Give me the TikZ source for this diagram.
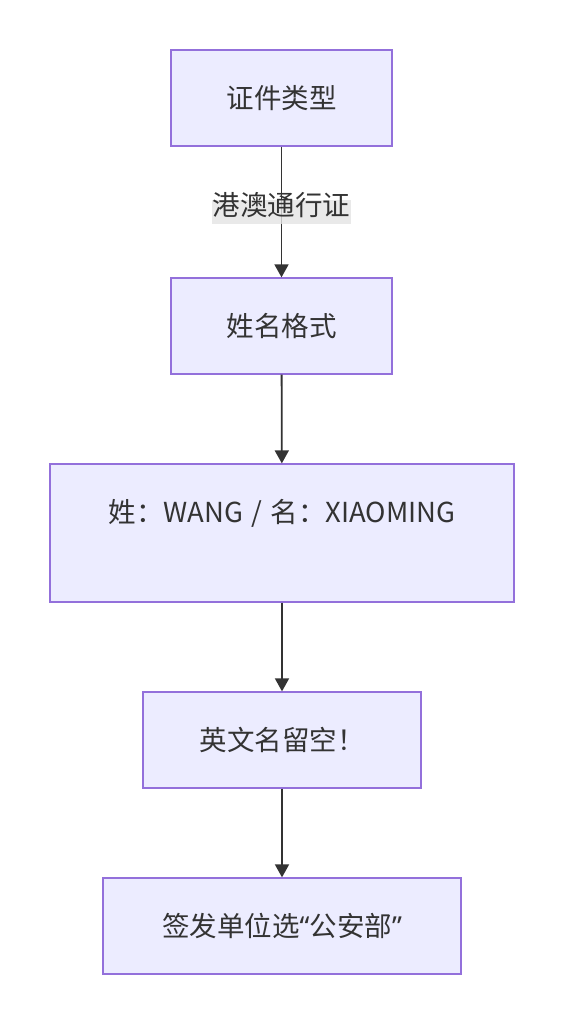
\documentclass[tikz,border=0pt]{standalone}
\usepackage{fontspec}
\setmainfont{Noto Sans CJK SC}
\newfontfamily\quotefont{Noto Sans}
\usetikzlibrary{arrows.meta}
\definecolor{boxfill}{HTML}{ECECFF}
\definecolor{boxline}{HTML}{9370DB}
\definecolor{edgeline}{HTML}{333333}
\definecolor{labelbg}{HTML}{E3E3E3}
\tikzset{
  flowbox/.style={draw=boxline, fill=boxfill, line width=1.3pt, inner sep=0pt,
    text=edgeline, font=\fontsize{27.5}{44}\selectfont, align=center},
  flowedge/.style={draw=edgeline, line width=1.8pt, -{Triangle[width=14pt,length=13pt]}},
  edgelabel/.style={fill=labelbg, fill opacity=0.8, text opacity=1, text=edgeline,
    inner xsep=1pt, inner ysep=6pt,
    text height=0.9em, text depth=0.22em, font=\fontsize{27.5}{30}\selectfont}
}
\begin{document}
\begin{tikzpicture}[x=1pt,y=-1pt]
\useasboundingbox (0,0) rectangle (564,1024);
\node[flowbox, minimum width=221pt, minimum height=96pt] (a) at (281.5,98) {证件类型};
\node[flowbox, minimum width=221pt, minimum height=96pt] (b) at (281.5,326) {姓名格式};
\node[flowbox, minimum width=464pt, minimum height=138pt] (c) at (282,533) {姓：WANG\hspace{0.3em}/\hspace{0.3em}名：XIAOMING\\\mbox{}};
\node[flowbox, minimum width=278pt, minimum height=96pt] (d) at (282,740) {英文名留空！};
\node[flowbox, minimum width=358pt, minimum height=96pt] (e) at (282,926) {签发单位选{\quotefont “}公安部{\quotefont ”}};
\draw[flowedge] (a) -- node[edgelabel] (la) {港澳通行证} (b);
\draw[flowedge] (b) -- (c);
\draw[flowedge] (c) -- (d);
\draw[flowedge] (d) -- (e);
\end{tikzpicture}
\end{document}
